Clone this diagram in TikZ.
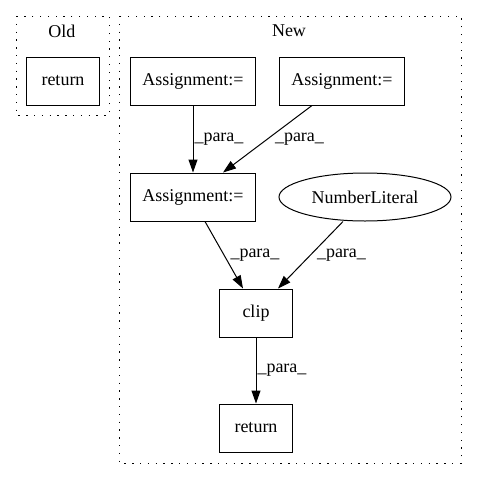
\documentclass[tikz,border=0pt]{standalone}
\usepackage{fontspec}
\setmainfont{Liberation Serif}
\usetikzlibrary{shapes.geometric,arrows.meta}

\begin{document}
\begin{tikzpicture}
[x=1pt,y=-1pt,
  nodeDecorate/.style={shape=rectangle,draw,line width=1pt,minimum width=73pt,minimum height=48pt,inner xsep=12pt},%
  ellipseDecorate/.style={shape=ellipse,draw,line width=1pt,minimum width=172pt,minimum height=48pt,inner sep=0pt},%
  arrowDecorate/.style={-{Triangle[length=13pt,width=9pt]},line width=1pt},%
  labelDecorate/.style={anchor=west,inner sep=1pt},%
  clusterDecorate/.style={draw,line width=1pt,dash pattern=on 1.3pt off 6.5pt},%
  font=\fontsize{18}{20}\selectfont]
\useasboundingbox (0,0) rectangle (477,480);
%% clusters
\draw[clusterDecorate] (16,16) rectangle (109,115);
\node (oldlabel) at (62,31) {Old};
\draw[clusterDecorate] (119,16) rectangle (461,463);
\node (newlabel) at (289,31) {New};
%% nodes or vertices
\foreach \nodename/\x/\y/\txt in {oldreturn/63/81/return, assignA/193/81/Assignment:=, assignB/342/81/Assignment:=, assignC/193/197/Assignment:=, clip/256/313/clip, newreturn/256/428/return}
{
  \node (\nodename) at (\x,\y) [nodeDecorate] {\txt};
}
\node (numlit) at (365,197) [ellipseDecorate] {NumberLiteral};
%% edges or lines
\foreach \startnode/\sx/\endnode/\ex/\lx in {assignA/0/assignC/0/0, assignB/-30/assignC/30/6, assignC/12/clip/-13/5, numlit/-22/clip/22/5, clip/0/newreturn/0/0}
{
  \draw[arrowDecorate] ([xshift=\sx pt]\startnode.south) -- ([xshift=\ex pt]\endnode.north)
    node[labelDecorate,midway,xshift=\lx pt] {\_para\_};
}
\end{tikzpicture}
\end{document}
